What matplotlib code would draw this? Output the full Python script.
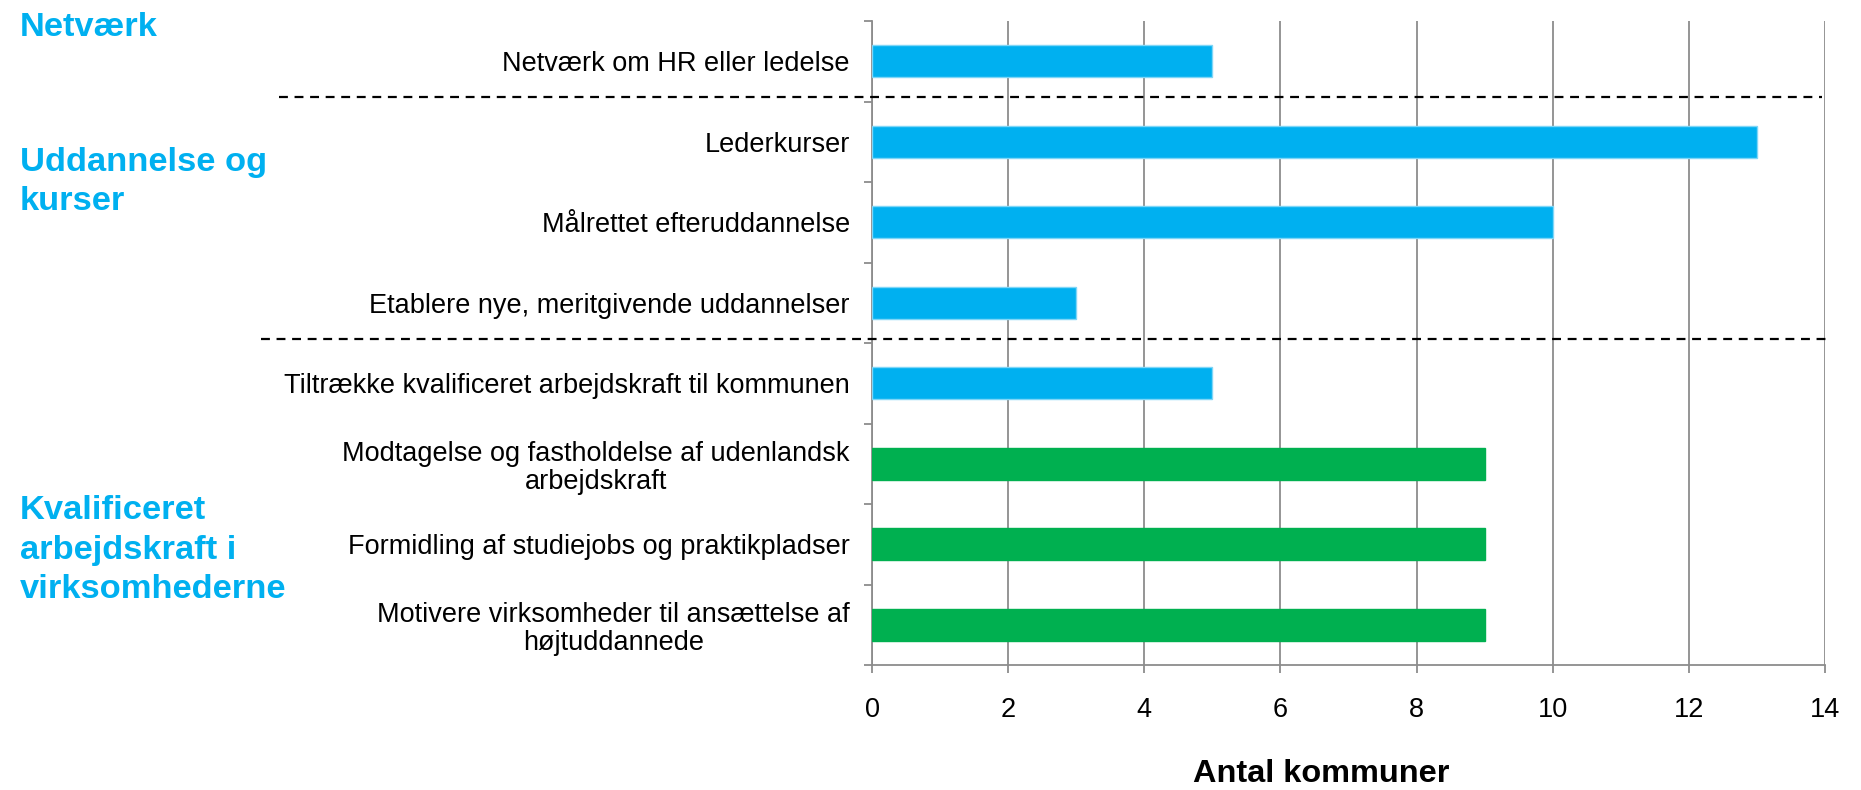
import matplotlib
matplotlib.use("Agg")
import matplotlib.pyplot as plt
import matplotlib.transforms as mtransforms
from matplotlib.lines import Line2D
import numpy as np

categories = [
    "Netværk om HR eller ledelse",
    "Lederkurser",
    "Målrettet efteruddannelse",
    "Etablere nye, meritgivende uddannelser",
    "Tiltrække kvalificeret arbejdskraft til kommunen",
    "Modtagelse og fastholdelse af udenlandsk\narbejdskraft",
    "Formidling af studiejobs og praktikpladser",
    "Motivere virksomheder til ansættelse af\nhøjtuddannede",
]
values = [5, 13, 10, 3, 5, 9, 9, 9]
bar_groups = ["blue", "blue", "blue", "blue", "blue", "green", "green", "green"]
x_ticks = [0, 2, 4, 6, 8, 10, 12, 14]
group_titles = ["Netværk", "Uddannelse og\nkurser", "Kvalificeret\narbejdskraft i\nvirksomhederne"]
x_label = "Antal kommuner"

BLUE = "#00B0F0"
GREEN = "#00B050"
GRID = "#8C8C8C"
colors = {"blue": BLUE, "green": GREEN}

plt.rcParams['font.family'] = ['Liberation Sans', 'DejaVu Sans']

W, H = 1861, 790
fig = plt.figure(figsize=(W / 100, H / 100), dpi=100)
ax = fig.add_axes([872 / W, 1 - 665 / H, (1825 - 872) / W, (665 - 21) / H])

y = np.arange(len(categories))
ax.barh(y, values, height=0.4, color=[colors[g] for g in bar_groups],
        edgecolor=[("#7FD6F7" if g == "blue" else GREEN) for g in bar_groups],
        linewidth=1, zorder=3)

ax.set_xlim(0, 14)
ax.set_ylim(len(categories) - 0.5, -0.5)
ax.set_xticks(x_ticks)
ax.set_xticklabels([str(t) for t in x_ticks], fontsize=19.5)
ax.grid(axis='x', color=GRID, linewidth=1.3, zorder=0)
ax.set_axisbelow(True)

ax.set_yticks(np.arange(-0.5, len(categories), 1.0))
ax.set_yticklabels([])
ax.set_yticks(y, minor=True)
ax.set_yticklabels(categories, minor=True, fontsize=19.5, multialignment='center',
                   linespacing=1.13)
ax.tick_params(axis='y', which='minor', length=0, pad=16)
ax.tick_params(axis='y', which='major', length=6, width=1.3, color=GRID, direction='out')
ax.tick_params(axis='x', length=6, width=1.3, color=GRID, direction='out', pad=17)

for s in ['top', 'right']:
    ax.spines[s].set_visible(False)
for s in ['left', 'bottom']:
    ax.spines[s].set_color(GRID)
    ax.spines[s].set_linewidth(1.3)

# dashed separators
trans = mtransforms.blended_transform_factory(fig.transFigure, ax.transData)
for x0, x1, yy in [(279 / W, 1822 / W, 0.45), (261 / W, 1828 / W, 3.45)]:
    ln = Line2D([x0, x1], [yy, yy], transform=trans, color='black',
                linestyle=(0, (4, 3)), linewidth=1.6, clip_on=False)
    fig.add_artist(ln)

# group titles
title_pos = [(20, 27), (20, 182), (20, 550)]
for t, (px, py) in zip(group_titles, title_pos):
    fig.text(px / W, 1 - py / H, t, color=BLUE, fontsize=24.8, fontweight='bold',
             ha='left', va='center', linespacing=1.34)

fig.text(1321 / W, 1 - 774 / H, x_label, fontsize=23.4, fontweight='bold',
         ha='center', va='center')

fig.savefig("out.png", dpi=100)
